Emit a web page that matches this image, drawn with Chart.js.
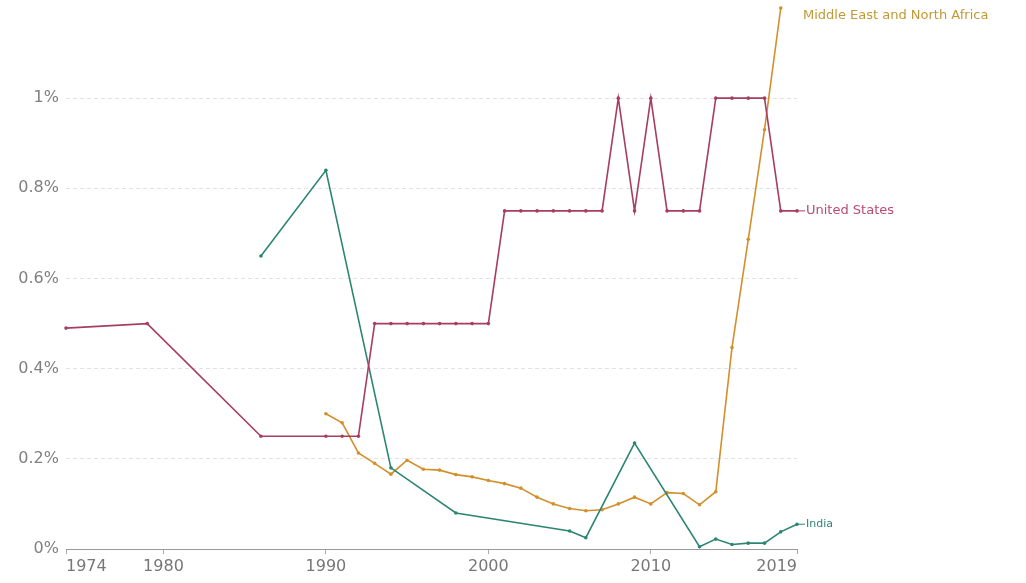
<!DOCTYPE html>
<html>
<head>
<meta charset="utf-8">
<script src="https://cdn.jsdelivr.net/npm/chart.js@4/dist/chart.umd.min.js"></script>
<style>
  html, body { margin: 0; padding: 0; background: #fff; }
  #wrap { width: 1026px; height: 583px; position: relative; }
</style>
</head>
<body>
<div id="wrap"><canvas id="chart"></canvas></div>
<script>
// series (values in %)
const usYears = [1974, 1979, 1986, 1990, 1991, 1992, 1993, 1994, 1995, 1996, 1997, 1998, 1999, 2000,
  2001, 2002, 2003, 2004, 2005, 2006, 2007, 2008, 2009, 2010, 2011, 2012, 2013, 2014, 2015, 2016, 2017, 2018, 2019];
const usValues = [0.49, 0.5, 0.25, 0.25, 0.25, 0.25, 0.5, 0.5, 0.5, 0.5, 0.5, 0.5, 0.5, 0.5,
  0.75, 0.75, 0.75, 0.75, 0.75, 0.75, 0.75, 1, 0.75, 1, 0.75, 0.75, 0.75, 1, 1, 1, 1, 0.75, 0.75];

const indiaYears = [1986, 1990, 1994, 1998, 2005, 2006, 2009, 2013, 2014, 2015, 2016, 2017, 2018, 2019];
const indiaValues = [0.65, 0.84, 0.18, 0.08, 0.04, 0.025, 0.235, 0.005, 0.022, 0.01, 0.013, 0.013, 0.038, 0.055];

const menaYears = [1990, 1991, 1992, 1993, 1994, 1995, 1996, 1997, 1998, 1999, 2000, 2001, 2002, 2003, 2004,
  2005, 2006, 2007, 2008, 2009, 2010, 2011, 2012, 2013, 2014, 2015, 2016, 2017, 2018];
const menaValues = [0.3, 0.28, 0.213, 0.19, 0.166, 0.197, 0.177, 0.175, 0.165, 0.16, 0.152, 0.145, 0.135, 0.115, 0.1,
  0.09, 0.085, 0.087, 0.1, 0.115, 0.1, 0.125, 0.123, 0.098, 0.127, 0.447, 0.687, 0.93, 1.2];

const xTicks = [1974, 1980, 1990, 2000, 2010, 2019];
const yTicks = [0, 0.2, 0.4, 0.6, 0.8, 1];

const seriesNames = ['United States', 'India', 'Middle East and North Africa'];
const lineColors = ['#a63e60', '#2b8671', '#d38f2c'];
const labelColors = ['#bb4a72', '#2b8671', '#bf9a34'];

function toPoints(xs, ys) {
  return xs.map((x, i) => ({ x: x, y: ys[i] }));
}

// end-of-line labels, like the original
const endLabels = {
  id: 'endLabels',
  afterDatasetsDraw(chart) {
    const ctx = chart.ctx;
    ctx.save();
    ctx.textBaseline = 'middle';
    chart.data.datasets.forEach((ds, i) => {
      const meta = chart.getDatasetMeta(i);
      const last = meta.data[meta.data.length - 1];
      const ly = Math.max(last.y, 16);
      if (ly === last.y) {
        ctx.strokeStyle = lineColors[i];
        ctx.lineWidth = 1;
        ctx.beginPath();
        ctx.moveTo(last.x, last.y);
        ctx.lineTo(805, ly);
        ctx.stroke();
      }
      ctx.fillStyle = labelColors[i];
      ctx.font = i === 1 ? '11px "DejaVu Sans"' : '13px "DejaVu Sans"';
      ctx.fillText(seriesNames[i], i === 2 ? 803 : 806, ly);
    });
    ctx.restore();
  }
};

const ctx = document.getElementById('chart').getContext('2d');
new Chart(ctx, {
  type: 'line',
  data: {
    datasets: [
      { label: seriesNames[0], data: toPoints(usYears, usValues) },
      { label: seriesNames[1], data: toPoints(indiaYears, indiaValues) },
      { label: seriesNames[2], data: toPoints(menaYears, menaValues) }
    ].map((d, i) => Object.assign(d, {
      borderColor: lineColors[i],
      backgroundColor: lineColors[i],
      borderWidth: 1.6,
      pointRadius: 1.8,
      pointHoverRadius: 2,
      pointBorderWidth: 0,
      tension: 0,
      clip: false
    }))
  },
  options: {
    responsive: true,
    maintainAspectRatio: false,
    animation: false,
    layout: { padding: { top: 8, right: 229, left: 0, bottom: 0 } },
    plugins: { legend: { display: false }, tooltip: { enabled: false } },
    scales: {
      x: {
        type: 'linear',
        min: 1974,
        max: 2019,
        afterBuildTicks: s => { s.ticks = xTicks.map(v => ({ value: v })); },
        afterFit: s => { s.height = 34; },
        grid: { drawOnChartArea: false, tickLength: 5, color: '#aaa' },
        border: { color: '#999', width: 1 },
        ticks: {
          align: 'inner',
          maxRotation: 0,
          padding: 3,
          color: '#777',
          font: { family: 'DejaVu Sans', size: 16 },
          callback: v => String(v)
        }
      },
      y: {
        min: 0,
        max: 1.2,
        afterBuildTicks: s => { s.ticks = yTicks.map(v => ({ value: v })); },
        afterFit: s => { s.width = 66; s.paddingTop = 0; s.paddingBottom = 0; },
        grid: {
          drawTicks: false,
          color: c => c.tick && c.tick.value === 0 ? 'rgba(0,0,0,0)' : '#e2e2e2'
        },
        border: { display: false, dash: [4, 3] },
        ticks: {
          padding: 7,
          color: '#808080',
          font: { family: 'DejaVu Sans', size: 16 },
          callback: v => (Math.round(v * 10) / 10) + '%'
        }
      }
    }
  },
  plugins: [endLabels]
});
</script>
</body>
</html>
